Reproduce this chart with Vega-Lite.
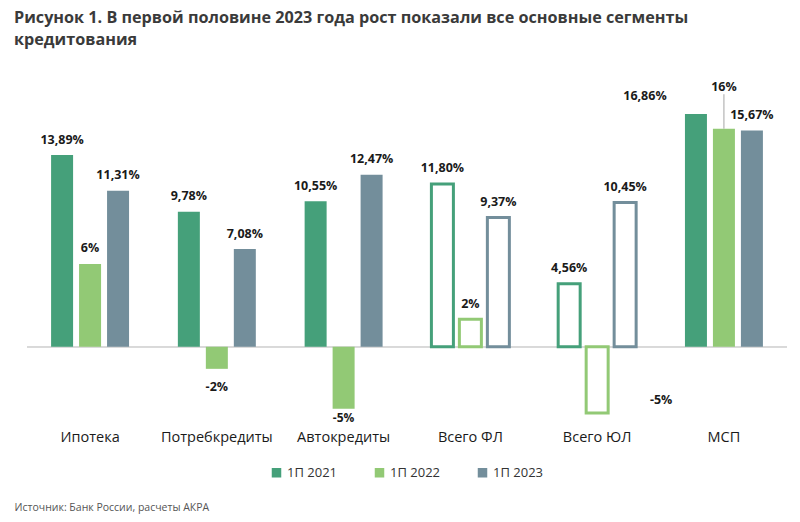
{
  "$schema": "https://vega.github.io/schema/vega-lite/v6.json",
  "autosize": "none",
  "width": 760,
  "height": 365,
  "padding": {"left": 27, "top": 60, "right": 13, "bottom": 97},
  "background": "white",
  "title": {
    "text": ["Рисунок 1. В первой половине 2023 года рост показали все основные сегменты", "кредитования"],
    "anchor": "start",
    "frame": "group",
    "dx": -13,
    "offset": 12,
    "fontSize": 16.2,
    "fontWeight": "bold",
    "font": "Open Sans",
    "color": "#3a3a3a",
    "lineHeight": 22
  },
  "config": {
    "view": {"stroke": null},
    "font": "Open Sans",
    "text": {"font": "Open Sans"}
  },
  "data": {
    "values": [
      {"cat": "Ипотека", "year": "1П 2021", "value": 13.89, "label": "13,89%", "kind": "segment"},
      {"cat": "Ипотека", "year": "1П 2022", "value": 6.0, "label": "6%", "kind": "segment"},
      {"cat": "Ипотека", "year": "1П 2023", "value": 11.31, "label": "11,31%", "kind": "segment"},
      {"cat": "Потребкредиты", "year": "1П 2021", "value": 9.78, "label": "9,78%", "kind": "segment"},
      {"cat": "Потребкредиты", "year": "1П 2022", "value": -1.6, "label": "-2%", "kind": "segment"},
      {"cat": "Потребкредиты", "year": "1П 2023", "value": 7.08, "label": "7,08%", "kind": "segment"},
      {"cat": "Автокредиты", "year": "1П 2021", "value": 10.55, "label": "10,55%", "kind": "segment"},
      {"cat": "Автокредиты", "year": "1П 2022", "value": -4.5, "label": "-5%", "kind": "segment"},
      {"cat": "Автокредиты", "year": "1П 2023", "value": 12.47, "label": "12,47%", "kind": "segment"},
      {"cat": "Всего ФЛ", "year": "1П 2021", "value": 11.80, "label": "11,80%", "kind": "total"},
      {"cat": "Всего ФЛ", "year": "1П 2022", "value": 2.0, "label": "2%", "kind": "total"},
      {"cat": "Всего ФЛ", "year": "1П 2023", "value": 9.37, "label": "9,37%", "kind": "total"},
      {"cat": "Всего ЮЛ", "year": "1П 2021", "value": 4.56, "label": "4,56%", "kind": "total"},
      {"cat": "Всего ЮЛ", "year": "1П 2022", "value": -4.8, "label": "-5%", "kind": "total"},
      {"cat": "Всего ЮЛ", "year": "1П 2023", "value": 10.45, "label": "10,45%", "kind": "total"},
      {"cat": "МСП", "year": "1П 2021", "value": 16.86, "label": "16,86%", "kind": "segment"},
      {"cat": "МСП", "year": "1П 2022", "value": 15.8, "label": "16%", "kind": "segment"},
      {"cat": "МСП", "year": "1П 2023", "value": 15.67, "label": "15,67%", "kind": "segment"}
    ]
  },
  "layer": [
    {
      "mark": {"type": "rule", "color": "#d9d9d9", "strokeWidth": 1.5},
      "encoding": {"y": {"datum": 0, "type": "quantitative", "scale": {"domain": [-5.67, 20.78], "nice": false, "zero": false}, "axis": null}}
    },
    {
      "transform": [{"filter": "datum.kind == 'segment'"}],
      "mark": {"type": "bar"},
      "encoding": {
        "x": {
          "field": "cat", "type": "nominal", "sort": ["Ипотека", "Потребкредиты", "Автокредиты", "Всего ФЛ", "Всего ЮЛ", "МСП"],
          "scale": {"paddingInner": 0.385, "paddingOuter": 0.19},
          "axis": {
            "labelAngle": 0, "domain": false, "ticks": false, "labelFontSize": 14.5, "labelColor": "#1a1a1a", "labelPadding": 5,
            "title": "Источник: Банк России, расчеты АКРА", "titleFontSize": 10.5, "titleFontWeight": "normal", "titleColor": "#555555",
            "titleAnchor": "start", "titleAlign": "left", "titleX": -13, "titleY": 82, "titleBaseline": "middle"
          }
        },
        "xOffset": {"field": "year", "type": "nominal", "scale": {"paddingInner": 0.214, "paddingOuter": 0}},
        "y": {"field": "value", "type": "quantitative", "scale": {"domain": [-5.67, 20.78], "nice": false, "zero": false}, "axis": null},
        "color": {
          "field": "year", "type": "nominal",
          "scale": {"domain": ["1П 2021", "1П 2022", "1П 2023"], "range": ["#45a07a", "#92c975", "#738e9b"]},
          "legend": {
            "orient": "none", "legendX": 243, "legendY": 406, "direction": "horizontal", "title": null,
            "symbolType": "square", "symbolSize": 64, "labelFontSize": 13, "labelColor": "#333333",
            "columnPadding": 34, "labelOffset": 4, "padding": 0
          }
        }
      }
    },
    {
      "transform": [{"filter": "datum.kind == 'total'"}],
      "mark": {"type": "bar", "fill": "white", "strokeWidth": 3},
      "encoding": {
        "x": {"field": "cat", "type": "nominal", "sort": ["Ипотека", "Потребкредиты", "Автокредиты", "Всего ФЛ", "Всего ЮЛ", "МСП"]},
        "xOffset": {"field": "year", "type": "nominal"},
        "y": {"field": "value", "type": "quantitative"},
        "stroke": {
          "field": "year", "type": "nominal",
          "scale": {"domain": ["1П 2021", "1П 2022", "1П 2023"], "range": ["#45a07a", "#92c975", "#738e9b"]},
          "legend": null
        }
      }
    },
    {
      "transform": [{"filter": "datum.value >= 0 && !(datum.cat == 'МСП' && datum.year != '1П 2023')"}],
      "mark": {"type": "text", "fontWeight": "bold", "fontSize": 12.5, "color": "#1a1a1a", "baseline": "middle", "dy": -15.5},
      "encoding": {
        "x": {"field": "cat", "type": "nominal", "sort": ["Ипотека", "Потребкредиты", "Автокредиты", "Всего ФЛ", "Всего ЮЛ", "МСП"]},
        "xOffset": {"field": "year", "type": "nominal"},
        "y": {"field": "value", "type": "quantitative"},
        "text": {"field": "label"}
      }
    },
    {
      "transform": [{"filter": "datum.value < 0 && datum.cat == 'Потребкредиты'"}],
      "mark": {"type": "text", "fontWeight": "bold", "fontSize": 12.5, "color": "#1a1a1a", "baseline": "middle", "dy": 18},
      "encoding": {
        "x": {"field": "cat", "type": "nominal", "sort": ["Ипотека", "Потребкредиты", "Автокредиты", "Всего ФЛ", "Всего ЮЛ", "МСП"]},
        "xOffset": {"field": "year", "type": "nominal"},
        "y": {"field": "value", "type": "quantitative"},
        "text": {"field": "label"}
      }
    },
    {
      "transform": [{"filter": "datum.value < 0 && datum.cat == 'Автокредиты'"}],
      "mark": {"type": "text", "fontWeight": "bold", "fontSize": 12, "color": "#1a1a1a", "baseline": "middle", "dy": 9.5},
      "encoding": {
        "x": {"field": "cat", "type": "nominal", "sort": ["Ипотека", "Потребкредиты", "Автокредиты", "Всего ФЛ", "Всего ЮЛ", "МСП"]},
        "xOffset": {"field": "year", "type": "nominal"},
        "y": {"field": "value", "type": "quantitative"},
        "text": {"field": "label"}
      }
    },
    {
      "transform": [{"filter": "datum.value < 0 && datum.cat == 'Всего ЮЛ'"}],
      "mark": {"type": "text", "fontWeight": "bold", "fontSize": 12.5, "color": "#1a1a1a", "baseline": "middle", "dx": 64, "dy": -13},
      "encoding": {
        "x": {"field": "cat", "type": "nominal", "sort": ["Ипотека", "Потребкредиты", "Автокредиты", "Всего ФЛ", "Всего ЮЛ", "МСП"]},
        "xOffset": {"field": "year", "type": "nominal"},
        "y": {"field": "value", "type": "quantitative"},
        "text": {"field": "label"}
      }
    },
    {
      "transform": [{"filter": "datum.cat == 'МСП' && datum.year == '1П 2021'"}],
      "mark": {"type": "text", "fontWeight": "bold", "fontSize": 12.5, "color": "#1a1a1a", "baseline": "middle", "dx": -51, "dy": -18},
      "encoding": {
        "x": {"field": "cat", "type": "nominal", "sort": ["Ипотека", "Потребкредиты", "Автокредиты", "Всего ФЛ", "Всего ЮЛ", "МСП"]},
        "xOffset": {"field": "year", "type": "nominal"},
        "y": {"field": "value", "type": "quantitative"},
        "text": {"field": "label"}
      }
    },
    {
      "transform": [{"filter": "datum.cat == 'МСП' && datum.year == '1П 2022'"}],
      "mark": {"type": "text", "fontWeight": "bold", "fontSize": 12.5, "color": "#1a1a1a", "baseline": "middle", "dy": -42},
      "encoding": {
        "x": {"field": "cat", "type": "nominal", "sort": ["Ипотека", "Потребкредиты", "Автокредиты", "Всего ФЛ", "Всего ЮЛ", "МСП"]},
        "xOffset": {"field": "year", "type": "nominal"},
        "y": {"field": "value", "type": "quantitative"},
        "text": {"field": "label"}
      }
    },
    {
      "transform": [{"filter": "datum.cat == 'МСП' && datum.year == '1П 2022'"}],
      "mark": {"type": "rule", "color": "#a6a6a6", "strokeWidth": 1},
      "encoding": {
        "x": {"field": "cat", "type": "nominal", "sort": ["Ипотека", "Потребкредиты", "Автокредиты", "Всего ФЛ", "Всего ЮЛ", "МСП"], "bandPosition": 0.5},
        "xOffset": {"field": "year", "type": "nominal", "bandPosition": 0.5},
        "y": {"field": "value", "type": "quantitative"},
        "y2": {"datum": 18.3}
      }
    }
  ]
}
